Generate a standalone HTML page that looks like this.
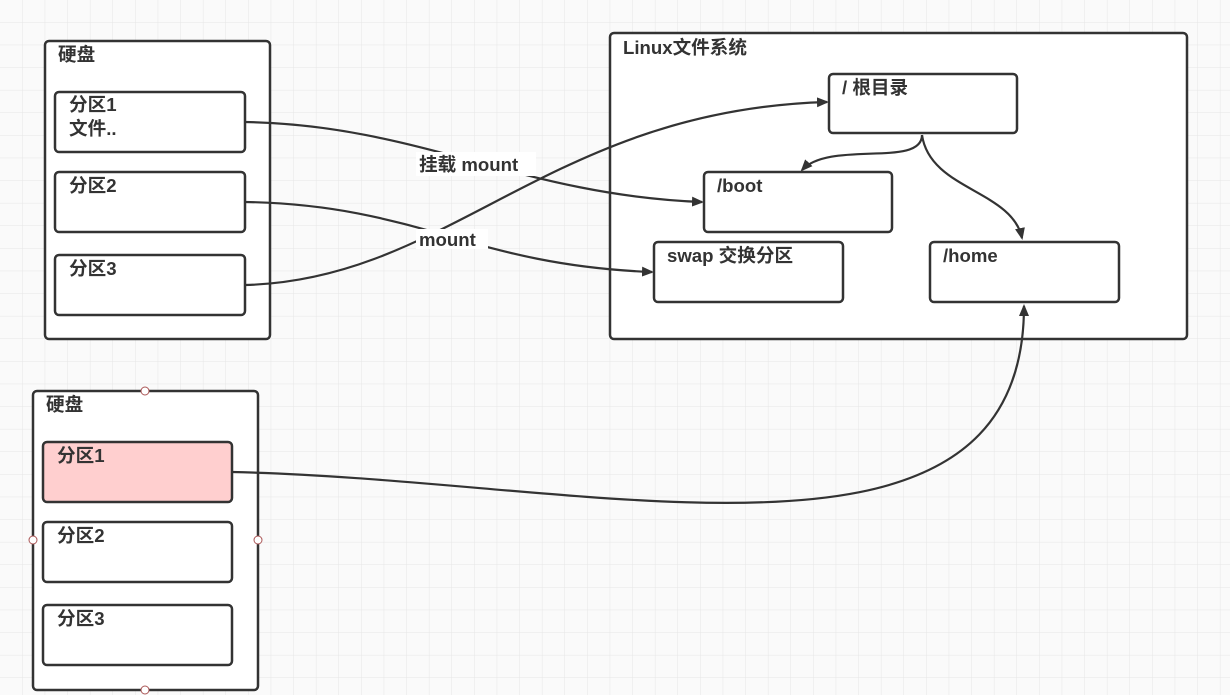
<!DOCTYPE html>
<html><head><meta charset="utf-8"><style>
html,body{margin:0;padding:0;background:#fff}
svg{display:block}
text{font-family:"Liberation Sans","Noto Sans CJK SC",sans-serif;font-weight:bold;fill:#333;font-size:18.6px}
</style></head><body>
<svg width="1230" height="695" viewBox="0 0 1230 695" xmlns="http://www.w3.org/2000/svg">
<defs>
<pattern id="g" width="22.6" height="22.6" patternUnits="userSpaceOnUse">
<path d="M22.6 0V22.6M0 22.6H22.6" stroke="#e6e6e6" stroke-width="1" fill="none"/>
</pattern>
<marker id="a" markerWidth="12" markerHeight="10" refX="10" refY="5" orient="auto" markerUnits="userSpaceOnUse">
<path d="M0,0 L12,5 L0,10 Z" fill="#333"/>
</marker>
</defs>
<rect width="1230" height="695" fill="#fafafa"/>
<rect width="1230" height="695" fill="url(#g)"/>
<g fill="#fff" stroke="#333" stroke-width="2.5">
<rect x="45" y="41" width="225" height="298" rx="4"/>
<rect x="55" y="92" width="190" height="60" rx="4"/>
<rect x="55" y="172" width="190" height="60" rx="4"/>
<rect x="55" y="255" width="190" height="60" rx="4"/>
<rect x="33" y="391" width="225" height="299" rx="4"/>
<rect x="43" y="442" width="189" height="60" rx="4" fill="#ffcfcf"/>
<rect x="43" y="522" width="189" height="60" rx="4"/>
<rect x="43" y="605" width="189" height="60" rx="4"/>
<rect x="610" y="33" width="577" height="306" rx="4"/>
<rect x="829" y="74" width="188" height="59" rx="4"/>
<rect x="704" y="172" width="188" height="60" rx="4"/>
<rect x="654" y="242" width="189" height="60" rx="4"/>
<rect x="930" y="242" width="189" height="60" rx="4"/>
</g>
<g fill="#fff" stroke="#a55" stroke-width="1">
<circle cx="145" cy="391" r="4"/><circle cx="33" cy="540" r="4"/><circle cx="258" cy="540" r="4"/><circle cx="145" cy="690" r="4"/>
</g>
<g fill="none" stroke="#333" stroke-width="2.2" marker-end="url(#a)">
<path d="M245,122 C420,125 520,195 702,202"/>
<path d="M245,202 C420,205 470,265 652,272"/>
<path d="M245,285 C450,280 550,110 827,102"/>
<path d="M922,135 C922,168 830,140 802,170"/>
<path d="M922,135 C930,190 1012,190 1022,238"/>
<path d="M232,472 C600,480 1024,600 1024,306"/>
</g>
<rect x="416" y="152" width="120" height="24" fill="#fff"/>
<rect x="416" y="229" width="72" height="20" fill="#fff"/>
<text x="58" y="61">硬盘</text>
<text x="69" y="111">分区1</text>
<text x="69" y="135">文件..</text>
<text x="69" y="192">分区2</text>
<text x="69" y="275">分区3</text>
<text x="46" y="411">硬盘</text>
<text x="57" y="462">分区1</text>
<text x="57" y="542">分区2</text>
<text x="57" y="625">分区3</text>
<text x="623" y="54">Linux文件系统</text>
<text x="842" y="94">/ 根目录</text>
<text x="717" y="192">/boot</text>
<text x="667" y="262">swap 交换分区</text>
<text x="943" y="262">/home</text>
<text x="419" y="171">挂载 mount</text>
<text x="419" y="246">mount</text>
</svg>
</body></html>
